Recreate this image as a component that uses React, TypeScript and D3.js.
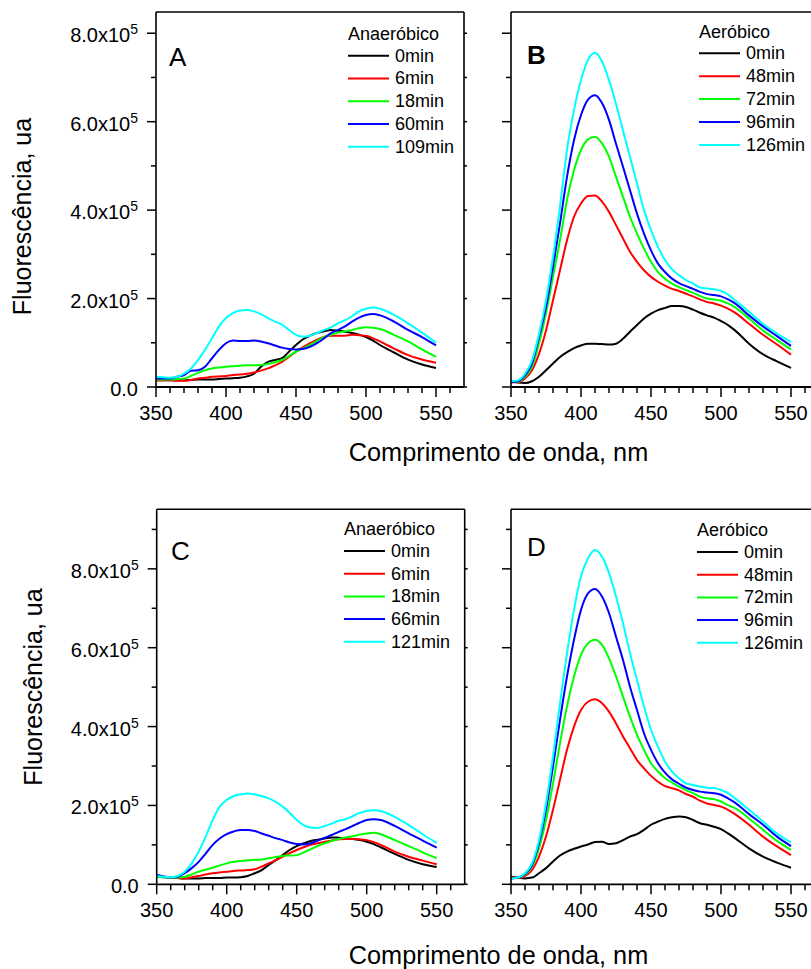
import React from "react";
import * as d3 from "d3";

// Wavelength grid (nm) shared by all panels
const WAVELENGTH = [350,355,360,365,370,375,380,385,390,395,400,405,410,415,420,425,430,435,440,445,450,455,460,465,470,475,480,485,490,495,500,505,510,520,530,540,550];

// Fluorescence values in units of 1e5 (ua)
// Panel A – Anaeróbico
const A_0MIN = [.15,.15,.15,.15,.15,.16,.17,.17,.17,.18,.19,.20,.21,.24,.30,.46,.57,.61,.65,.80,.95,1.08,1.16,1.22,1.26,1.29,1.27,1.25,1.22,1.18,1.13,1.05,.95,.78,.62,.51,.43];
const A_6MIN = [.15,.15,.15,.14,.14,.16,.19,.21,.23,.24,.25,.27,.28,.30,.33,.37,.42,.49,.57,.68,.80,.90,.99,1.07,1.13,1.16,1.16,1.16,1.18,1.17,1.16,1.10,1.03,.87,.72,.62,.55];
const A_18MIN = [.17,.17,.17,.18,.19,.25,.32,.38,.42,.44,.46,.47,.48,.49,.49,.50,.52,.56,.61,.70,.80,.87,.95,1.04,1.13,1.18,1.23,1.26,1.29,1.33,1.35,1.34,1.31,1.18,1.03,.85,.68];
const A_60MIN = [.19,.19,.19,.23,.27,.37,.38,.46,.65,.84,.99,1.05,1.04,1.04,1.05,1.03,.99,.94,.89,.86,.85,.86,.91,.99,1.10,1.22,1.29,1.37,1.48,1.57,1.63,1.65,1.62,1.48,1.29,1.13,.94];
const A_109MIN = [.23,.22,.21,.23,.30,.42,.61,.84,1.10,1.37,1.56,1.67,1.73,1.74,1.71,1.65,1.56,1.48,1.41,1.29,1.18,1.14,1.16,1.22,1.29,1.35,1.44,1.51,1.60,1.71,1.77,1.80,1.77,1.63,1.44,1.23,1.00];

// Panel B – Aeróbico
const B_0MIN = [.13,.10,.09,.13,.23,.38,.53,.68,.79,.88,.94,.98,.98,.97,.96,.98,1.09,1.25,1.40,1.55,1.66,1.74,1.79,1.83,1.83,1.81,1.75,1.68,1.62,1.57,1.49,1.40,1.28,.98,.74,.58,.43];
const B_48MIN = [.11,.11,.19,.38,.75,1.28,1.96,2.64,3.32,3.85,4.15,4.32,4.33,4.19,3.96,3.66,3.36,3.06,2.83,2.64,2.49,2.38,2.29,2.22,2.17,2.11,2.05,1.98,1.92,1.89,1.84,1.77,1.68,1.43,1.18,.96,.73];
const B_72MIN = [.11,.12,.23,.45,.98,1.66,2.49,3.32,4.23,4.90,5.36,5.60,5.66,5.51,5.21,4.75,4.30,3.85,3.47,3.13,2.83,2.60,2.45,2.34,2.26,2.19,2.13,2.06,2.00,1.98,1.95,1.89,1.80,1.55,1.28,1.06,.85];
const B_96MIN = [.11,.13,.26,.53,1.13,1.81,2.72,3.70,4.75,5.58,6.15,6.50,6.60,6.42,6.04,5.50,4.98,4.45,3.92,3.47,3.09,2.79,2.60,2.45,2.35,2.28,2.22,2.15,2.10,2.08,2.05,1.98,1.89,1.62,1.37,1.15,.93];
const B_126MIN = [.13,.15,.30,.60,1.20,1.96,2.94,4.08,5.36,6.26,6.94,7.40,7.56,7.36,6.94,6.40,5.80,5.20,4.60,4.00,3.55,3.17,2.87,2.66,2.53,2.42,2.34,2.25,2.23,2.21,2.17,2.09,1.96,1.70,1.43,1.21,1.02];

// Panel C – Anaeróbico
const C_0MIN = [.19,.18,.17,.16,.15,.15,.15,.16,.16,.16,.17,.17,.18,.21,.28,.36,.49,.61,.74,.87,.97,1.04,1.10,1.13,1.16,1.19,1.18,1.17,1.15,1.12,1.08,1.02,.94,.77,.62,.51,.44];
const C_6MIN = [.21,.19,.17,.16,.15,.18,.21,.25,.28,.30,.32,.34,.35,.36,.38,.45,.53,.61,.70,.79,.87,.94,1.00,1.04,1.08,1.11,1.14,1.15,1.15,1.14,1.12,1.07,1.00,.83,.70,.60,.51];
const C_18MIN = [.19,.18,.17,.17,.19,.25,.32,.37,.42,.48,.53,.57,.59,.61,.62,.63,.66,.69,.72,.73,.74,.81,.89,.97,1.04,1.10,1.15,1.19,1.22,1.26,1.29,1.31,1.27,1.12,.97,.81,.66];
const C_66MIN = [.24,.20,.17,.19,.28,.41,.57,.78,1.00,1.16,1.27,1.34,1.38,1.38,1.35,1.29,1.23,1.17,1.12,1.06,1.02,1.01,1.04,1.11,1.18,1.25,1.33,1.40,1.48,1.56,1.63,1.65,1.63,1.48,1.29,1.11,.93];
const C_121MIN = [.21,.19,.18,.21,.32,.53,.83,1.21,1.63,1.97,2.14,2.24,2.28,2.30,2.28,2.24,2.18,2.09,1.97,1.81,1.63,1.50,1.44,1.43,1.48,1.54,1.61,1.65,1.73,1.81,1.86,1.88,1.86,1.71,1.50,1.27,1.05];

// Panel D – Aeróbico
const D_0MIN = [.19,.17,.15,.17,.28,.41,.58,.73,.83,.90,.96,1.01,1.07,1.08,1.02,1.04,1.12,1.21,1.27,1.38,1.51,1.59,1.66,1.70,1.72,1.70,1.63,1.55,1.51,1.46,1.40,1.29,1.17,.91,.70,.55,.42];
const D_48MIN = [.17,.16,.21,.36,.70,1.21,1.89,2.65,3.41,4.00,4.42,4.63,4.69,4.59,4.38,4.08,3.75,3.45,3.15,2.94,2.75,2.60,2.49,2.44,2.38,2.29,2.22,2.12,2.05,2.01,1.97,1.89,1.78,1.51,1.21,.96,.74];
const D_72MIN = [.15,.17,.24,.45,.91,1.63,2.56,3.58,4.51,5.27,5.82,6.11,6.20,6.07,5.73,5.27,4.76,4.25,3.79,3.41,3.07,2.86,2.69,2.58,2.48,2.39,2.31,2.22,2.18,2.16,2.10,2.01,1.93,1.67,1.38,1.10,.87];
const D_96MIN = [.15,.17,.26,.49,1.04,1.89,2.99,4.17,5.27,6.20,6.96,7.38,7.49,7.30,6.88,6.28,5.69,5.01,4.42,3.83,3.41,3.07,2.83,2.66,2.55,2.45,2.39,2.35,2.33,2.31,2.27,2.18,2.07,1.78,1.51,1.21,.97];
const D_126MIN = [.15,.17,.28,.53,1.12,2.05,3.24,4.59,5.86,6.96,7.81,8.27,8.48,8.31,7.89,7.30,6.62,5.86,5.18,4.51,3.92,3.49,3.11,2.86,2.69,2.56,2.52,2.48,2.45,2.44,2.39,2.31,2.18,1.89,1.59,1.29,1.06];

const LEGEND_A = ["0min", "6min", "18min", "60min", "109min"];
const LEGEND_B = ["0min", "48min", "72min", "96min", "126min"];
const LEGEND_C = ["0min", "6min", "18min", "66min", "121min"];
const LEGEND_D = ["0min", "48min", "72min", "96min", "126min"];
const COLORS = ["#000000", "#ff0000", "#00ff00", "#0000ff", "#00ffff"];

const X_MAJOR = [350, 400, 450, 500, 550];
const X_MINOR = [360, 370, 380, 390, 410, 420, 430, 440, 460, 470, 480, 490, 510, 520, 530, 540, 560];
const Y_MAJOR_LABELS = ["0.0", "2.0", "4.0", "6.0", "8.0"];
const Y_MAJOR = [0, 2, 4, 6, 8];

const FONT = "'Liberation Sans', Arial, Helvetica, sans-serif";

type PanelProps = {
  left: number; top: number; bottom: number; yMax: number;
  series: number[][]; names: string[]; title: string;
  letter: string; bold?: boolean; letterX: number; letterY: number;
  showYLabels: boolean;
  legX: number; legTitleY: number; legRow0: number; legStep: number; legLineLen: number;
};

function Panel(p: PanelProps) {
  const xs = d3.scaleLinear().domain([350, 570]).range([p.left, p.left + 308]);
  const ys = d3.scaleLinear().domain([0, p.yMax]).range([p.bottom, p.top]);
  const line = d3.line<number>()
    .x((_, i) => xs(WAVELENGTH[i]))
    .y((d) => ys(d))
    .curve(d3.curveMonotoneX);
  const minorY = d3.range(0, Math.floor(p.yMax) + 1).filter((v) => v % 2 === 1);
  const right = xs(570);
  return (
    <g>
      {p.series.map((s, i) => (
        <path key={i} d={line(s) || ""} fill="none" stroke={COLORS[i]} strokeWidth={2} strokeLinejoin="round" />
      ))}
      <line x1={p.left} x2={p.left} y1={p.top} y2={p.bottom} stroke="#000" strokeWidth={1.6} />
      <line x1={p.left} x2={right} y1={p.top} y2={p.top} stroke="#000" strokeWidth={1.6} />
      <line x1={right} x2={right} y1={p.top} y2={p.bottom} stroke="#000" strokeWidth={1.6} />
      <line x1={p.left} x2={right} y1={p.bottom} y2={p.bottom} stroke="#000" strokeWidth={1.8} />
      {Y_MAJOR.map((v) => (
        <g key={"ym" + v}>
          <line x1={p.left - 9} x2={p.left} y1={ys(v)} y2={ys(v)} stroke="#000" strokeWidth={1.5} />
          <line x1={right} x2={right + 3} y1={ys(v)} y2={ys(v)} stroke="#000" strokeWidth={1.5} />
        </g>
      ))}
      {minorY.map((v) => (
        <g key={"yn" + v}>
          <line x1={p.left - 5} x2={p.left} y1={ys(v)} y2={ys(v)} stroke="#000" strokeWidth={1.5} />
          <line x1={right} x2={right + 3} y1={ys(v)} y2={ys(v)} stroke="#000" strokeWidth={1.5} />
        </g>
      ))}
      {p.showYLabels && Y_MAJOR.map((v, i) => (
        <text key={"yl" + v} x={p.left - 18} y={ys(v) + 9} textAnchor="end" fontSize={20} fontFamily={FONT}>
          {v === 0 ? (
            Y_MAJOR_LABELS[i]
          ) : (
            <>
              {Y_MAJOR_LABELS[i] + "x10"}
              <tspan fontSize={14} dy={-8}>5</tspan>
            </>
          )}
        </text>
      ))}
      {X_MAJOR.map((v) => (
        <g key={"xm" + v}>
          <line x1={xs(v)} x2={xs(v)} y1={p.bottom} y2={p.bottom + 10} stroke="#000" strokeWidth={1.5} />
          <text x={xs(v)} y={p.bottom + 33} textAnchor="middle" fontSize={20} fontFamily={FONT}>{v}</text>
        </g>
      ))}
      {X_MINOR.map((v) => (
        <line key={"xn" + v} x1={xs(v)} x2={xs(v)} y1={p.bottom} y2={p.bottom + 6} stroke="#000" strokeWidth={1.5} />
      ))}
      <text x={p.letterX} y={p.letterY} dominantBaseline="central" fontSize={26} fontWeight={p.bold ? "bold" : "normal"} fontFamily={FONT}>{p.letter}</text>
      <text x={p.legX} y={p.legTitleY} dominantBaseline="central" fontSize={18} fontFamily={FONT}>{p.title}</text>
      {p.names.map((n, i) => {
        const y = p.legRow0 + i * p.legStep;
        return (
          <g key={"lg" + i}>
            <line x1={p.legX} x2={p.legX + p.legLineLen} y1={y} y2={y} stroke={COLORS[i]} strokeWidth={2} />
            <text x={p.legX + p.legLineLen + 6} y={y} dominantBaseline="central" fontSize={18} fontFamily={FONT}>{n}</text>
          </g>
        );
      })}
    </g>
  );
}

export default function App() {
  return (
    <svg width={811} height={969} style={{ position: "absolute", left: 0, top: 0, background: "#fff" }}>
      <rect x={0} y={0} width={811} height={969} fill="#fff" />
      <Panel left={156} top={12} bottom={387} yMax={8.48}
        series={[A_0MIN, A_6MIN, A_18MIN, A_60MIN, A_109MIN]} names={LEGEND_A} title="Anaeróbico"
        letter="A" letterX={169} letterY={57} showYLabels={true}
        legX={348} legTitleY={33.5} legRow0={55.7} legStep={22.75} legLineLen={41} />
      <Panel left={511} top={12} bottom={387} yMax={8.48}
        series={[B_0MIN, B_48MIN, B_72MIN, B_96MIN, B_126MIN]} names={LEGEND_B} title="Aeróbico"
        letter="B" bold={true} letterX={527} letterY={55} showYLabels={false}
        legX={699} legTitleY={31.7} legRow0={53.3} legStep={22.9} legLineLen={41} />
      <Panel left={156.7} top={509.3} bottom={884.3} yMax={9.51}
        series={[C_0MIN, C_6MIN, C_18MIN, C_66MIN, C_121MIN]} names={LEGEND_C} title="Anaeróbico"
        letter="C" letterX={171} letterY={551} showYLabels={true}
        legX={344} legTitleY={529} legRow0={551} legStep={22.7} legLineLen={41} />
      <Panel left={511} top={509.3} bottom={884.3} yMax={9.51}
        series={[D_0MIN, D_48MIN, D_72MIN, D_96MIN, D_126MIN]} names={LEGEND_D} title="Aeróbico"
        letter="D" letterX={527} letterY={547} showYLabels={false}
        legX={697} legTitleY={530} legRow0={552} legStep={22.7} legLineLen={41} />
      <text x={498.5} y={452} textAnchor="middle" dominantBaseline="central" fontSize={25.3} fontFamily={FONT}>Comprimento de onda, nm</text>
      <text x={498.5} y={955} textAnchor="middle" dominantBaseline="central" fontSize={25.3} fontFamily={FONT}>Comprimento de onda, nm</text>
      <text transform="translate(22,216.5) rotate(-90)" textAnchor="middle" dominantBaseline="central" fontSize={25} fontFamily={FONT}>Fluorescência, ua</text>
      <text transform="translate(32.7,687) rotate(-90)" textAnchor="middle" dominantBaseline="central" fontSize={25} fontFamily={FONT}>Fluorescência, ua</text>
    </svg>
  );
}
